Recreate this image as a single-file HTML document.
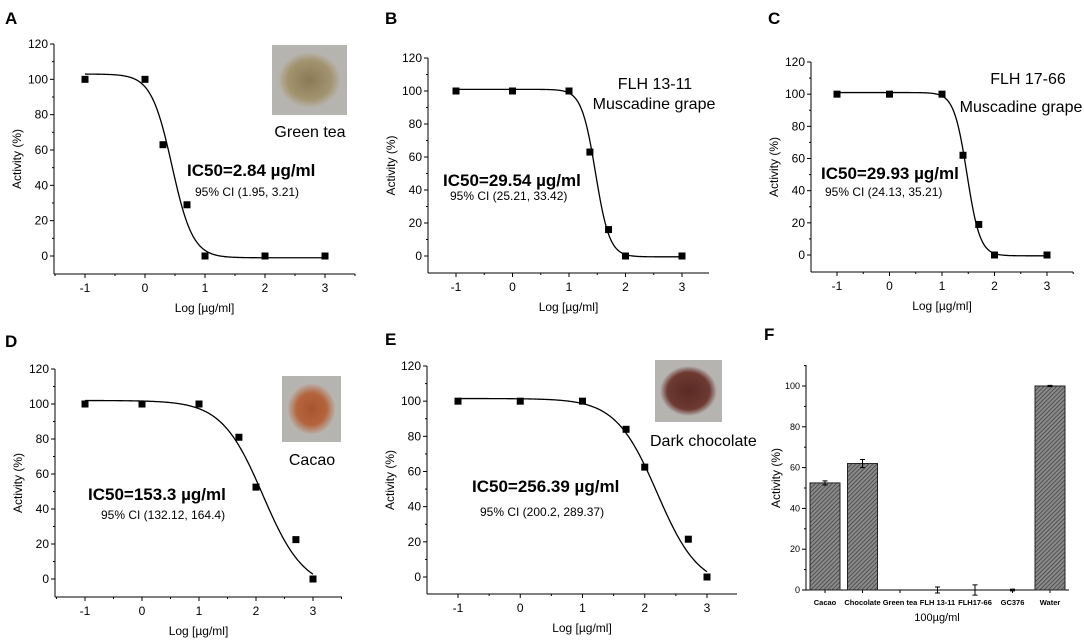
<!DOCTYPE html>
<html><head><meta charset="utf-8">
<style>
html,body{margin:0;padding:0;background:#fff;}
svg{display:block;font-family:"Liberation Sans",Arial,sans-serif;}
</style></head>
<body>
<svg id="fig" width="1084" height="641" viewBox="0 0 1084 641" xmlns="http://www.w3.org/2000/svg">
<defs>
<pattern id="hatch" width="3" height="3" patternUnits="userSpaceOnUse" patternTransform="rotate(45)">
<rect width="3" height="3" fill="#8a8a8a"/><line x1="0" y1="0" x2="0" y2="3" stroke="#3a3a3a" stroke-width="1.4"/>
</pattern>
<radialGradient id="teaG"><stop offset="0" stop-color="#8a7a55"/><stop offset="0.7" stop-color="#a39470"/><stop offset="1" stop-color="#b8b5ae"/></radialGradient>
<radialGradient id="cacaoG"><stop offset="0" stop-color="#a8552e"/><stop offset="0.6" stop-color="#b4643c"/><stop offset="1" stop-color="#b9b9b6"/></radialGradient>
<radialGradient id="chocG"><stop offset="0" stop-color="#5a2a24"/><stop offset="0.75" stop-color="#6e3a32"/><stop offset="1" stop-color="#b2aeab"/></radialGradient>
</defs>
<g id="root"></g>
</svg>
<script>
// ---- Data ----
const xTicks = [-1, 0, 1, 2, 3];
const yTicks = [0, 20, 40, 60, 80, 100, 120];
const aX = [-1, 0, 0.3, 0.7, 1, 2, 3];
const aY = [100, 100, 63, 29, 0, 0, 0];
const bX = [-1, 0, 1, 1.37, 1.7, 2, 3];
const bY = [100, 100, 100, 63, 16, 0, 0];
const cX = [-1, 0, 1, 1.4, 1.7, 2, 3];
const cY = [100, 100, 100, 62, 19, 0, 0];
const dX = [-1, 0, 1, 1.7, 2, 2.7, 3];
const dY = [100, 100, 100, 81, 52.5, 22.5, 0];
const eX = [-1, 0, 1, 1.7, 2, 2.7, 3];
const eY = [100, 100, 100, 84, 62.5, 21.5, 0];
// fit params [top, bottom, logIC50, hill]
const aFit = [103, -1, 0.45, 2.5];
const bFit = [101, -0.5, 1.47, 3.5];
const cFit = [101, -0.5, 1.476, 3.5];
const dFit = [102, -6, 2.12, 1.2];
const eFit = [101.5, -6, 2.2, 1.3];
const fCats = ["Cacao", "Chocolate", "Green tea", "FLH 13-11", "FLH17-66", "GC376", "Water"];
const fVals = [52.5, 62, 0, 0, 0, 0, 100];
const fErr = [1, 2, 0, 1.5, 2.5, 0.4, 0.3];
const fTicks = [0, 20, 40, 60, 80, 100];

const NS = "http://www.w3.org/2000/svg";
const root = document.getElementById("root");
function mk(tag, attrs, parent) {
  const e = document.createElementNS(NS, tag);
  for (const k in attrs) e.setAttribute(k, attrs[k]);
  (parent || root).appendChild(e);
  return e;
}
function txt(s, x, y, attrs, parent) {
  const t = mk("text", Object.assign({x: x, y: y}, attrs), parent);
  t.textContent = s;
  return t;
}

function curvePanel(p) {
  const g = mk("g", {});
  
  
  const sx = v => p.x0 + (v - (-1)) * (p.x3 - p.x0) / 4;
  const sy = v => p.y0 + v * (p.y120 - p.y0) / 120;
  const ff = p.font || '"Liberation Sans", Arial, sans-serif';
  // axes
  const ax = mk("g", {stroke: "#000", "stroke-width": 1}, g);
  
  
  mk("line", {x1: p.ax, y1: p.y120, x2: p.ax, y2: p.xaxY}, ax);
  mk("line", {x1: p.ax, y1: p.xaxY, x2: p.xend, y2: p.xaxY}, ax);
  for (let v = -10; v <= 120; v += 10) {
    if (v === -10) continue;
    const major = v % 20 === 0;
    mk("line", {x1: p.ax - (major ? 4 : 2), y1: sy(v), x2: p.ax, y2: sy(v)}, ax);
  }
  for (let v = -1.5; v <= 3.5; v += 0.5) {
    const X = sx(v);
    if (X < p.ax || X > p.xend + 0.5) continue;
    const major = Number.isInteger(v);
    mk("line", {x1: X, y1: p.xaxY, x2: X, y2: p.xaxY + (major ? 4 : 2)}, ax);
  }
  yTicks.forEach(v => {
    const t = txt(String(v), p.ax - 6, sy(v) + 4, {"font-size": 12, "text-anchor": "end", "font-family": ff}, g);
    
    
  });
  xTicks.forEach(v => {
    const t = txt(String(v), sx(v), p.xaxY + 18, {"font-size": 12, "text-anchor": "middle", "font-family": ff}, g);
    
    
  });
  const yt = txt("Activity (%)", 0, 0, {"font-size": 12, "text-anchor": "middle", transform: `translate(${p.ax - 33},${(p.y120 + p.xaxY) / 2}) rotate(-90)`, "font-family": ff}, g);
  
  
  const xt = txt("Log [µg/ml]", (p.ax + p.xend) / 2, p.xaxY + 38, {"font-size": 12, "text-anchor": "middle", "font-family": ff}, g);
  
  
  // curve
  const [top, bot, c, h] = p.fit;
  let d = "";
  for (let i = 0; i <= 200; i++) {
    const xv = -1 + 4 * i / 200;
    const yv = bot + (top - bot) / (1 + Math.pow(10, h * (xv - c)));
    d += (i ? "L" : "M") + sx(xv).toFixed(2) + "," + sy(yv).toFixed(2);
  }
  const cv = mk("path", {d: d, fill: "none", stroke: "#000", "stroke-width": 1.3}, g);
  
  
  p.xs.forEach((xv, i) => {
    const r = mk("rect", {x: sx(xv) - 3.5, y: sy(p.ys[i]) - 3.5, width: 7, height: 7, fill: "#000"}, g);
    
    
  });
  // panel letter
  const L = txt(p.letter, p.lx, p.ly, {"font-size": 17, "font-weight": "bold"}, g);
  
  
  // annotations
  const i1 = txt(p.ic50, p.icx, p.icy, {"font-size": p.icSize || 17, "font-weight": "bold", "font-family": ff}, g);
  
  
  const i2 = txt(p.ci, p.cix, p.ciy, {"font-size": 12, "font-family": ff}, g);
  
  
  return g;
}

function photo(x, y, w, h, grad, name, parent) {
  const g = mk("g", {}, parent);
  
  
  mk("rect", {x: x, y: y, width: w, height: h, fill: "#b5b4b1"}, g);
  mk("ellipse", {cx: x + w / 2, cy: y + h / 2, rx: w * 0.42, ry: h * 0.4, fill: "url(#" + grad + ")"}, g);
}

const pA = curvePanel({name: "panel-a-green-tea", letter: "A", lx: 5, ly: 24, x0: 85, x3: 325, ax: 54, xend: 355, y0: 256, y120: 44, xaxY: 274, xs: aX, ys: aY, fit: aFit,
  ic50: "IC50=2.84 µg/ml", icx: 187, icy: 176, ci: "95% CI (1.95, 3.21)", cix: 195, ciy: 196});
photo(272, 45, 75, 70, "teaG", "green-tea-photo", pA);
txt("Green tea", 310, 137, {"font-size": 16, "text-anchor": "middle"}, pA);

const narrow = '"Liberation Sans Narrow", "Liberation Sans", Arial, sans-serif';
const pB = curvePanel({name: "panel-b-flh-13-11", letter: "B", lx: 385, ly: 24, x0: 456, x3: 682, ax: 428, xend: 709, y0: 256, y120: 58, xaxY: 273, xs: bX, ys: bY, fit: bFit, font: narrow,
  ic50: "IC50=29.54 µg/ml", icx: 443, icy: 186, ci: "95% CI (25.21, 33.42)", cix: 450, ciy: 200});
txt("FLH 13-11", 655, 89, {"font-size": 16, "text-anchor": "middle", "font-family": narrow}, pB);
txt("Muscadine grape", 654, 109, {"font-size": 16, "text-anchor": "middle", "font-family": narrow}, pB);

const pC = curvePanel({name: "panel-c-flh-17-66", letter: "C", lx: 768, ly: 24, x0: 837, x3: 1047, ax: 811, xend: 1073, y0: 255, y120: 62, xaxY: 272, xs: cX, ys: cY, fit: cFit,
  ic50: "IC50=29.93 µg/ml", icx: 821, icy: 179, ci: "95% CI  (24.13, 35.21)", cix: 825, ciy: 196});
txt("FLH 17-66", 1028, 84, {"font-size": 16, "text-anchor": "middle"}, pC);
txt("Muscadine grape", 1021, 112, {"font-size": 16, "text-anchor": "middle"}, pC);

const pD = curvePanel({name: "panel-d-cacao", letter: "D", lx: 5, ly: 347, x0: 85, x3: 313, ax: 55, xend: 342, y0: 579, y120: 369, xaxY: 597, xs: dX, ys: dY, fit: dFit,
  ic50: "IC50=153.3 µg/ml", icx: 88, icy: 500, ci: "95% CI (132.12, 164.4)", cix: 101, ciy: 519});
photo(282, 376, 59, 66, "cacaoG", "cacao-photo", pD);
txt("Cacao", 312, 465, {"font-size": 16, "text-anchor": "middle"}, pD);

const pE = curvePanel({name: "panel-e-dark-chocolate", letter: "E", lx: 385, ly: 345, x0: 458, x3: 707, ax: 427, xend: 737, y0: 577, y120: 366, xaxY: 594, xs: eX, ys: eY, fit: eFit,
  ic50: "IC50=256.39 µg/ml", icx: 472, icy: 492, ci: "95% CI (200.2, 289.37)", cix: 480, ciy: 516});
photo(655, 360, 67, 62, "chocG", "chocolate-photo", pE);
txt("Dark chocolate", 650, 446, {"font-size": 16}, pE);

// ---- Panel F bar chart ----
(function () {
  const g = mk("g", {});
  
  
  const ax = 806, x0 = 590, top = 365, end = 1069;
  const sy = v => x0 + v * (386 - x0) / 100;
  const sx = i => 825 + i * 37.5;
  const axes = mk("g", {stroke: "#000", "stroke-width": 1}, g);
  
  
  mk("line", {x1: ax, y1: top, x2: ax, y2: x0}, axes);
  mk("line", {x1: ax, y1: x0, x2: end, y2: x0}, axes);
  for (let v = 0; v <= 110; v += 10) {
    if (sy(v) < top) continue;
    mk("line", {x1: ax - (v % 20 === 0 ? 4 : 2), y1: sy(v), x2: ax, y2: sy(v)}, axes);
  }
  fTicks.forEach(v => {
    const t = txt(String(v), ax - 6, sy(v) + 3, {"font-size": 9, "text-anchor": "end"}, g);
    
    
  });
  fCats.forEach((c, i) => {
    const X = sx(i);
    mk("line", {x1: X, y1: x0, x2: X, y2: x0 + 3, stroke: "#000"}, g);
    if (fVals[i] > 0) {
      const b = mk("rect", {x: X - 15, y: sy(fVals[i]), width: 30, height: x0 - sy(fVals[i]), fill: "url(#hatch)", stroke: "#222", "stroke-width": 1}, g);
      
      
    }
    if (fErr[i] > 0) {
      const e = mk("path", {d: `M${X},${sy(fVals[i] - fErr[i])}V${sy(fVals[i] + fErr[i])}M${X - 2.5},${sy(fVals[i] + fErr[i])}h5M${X - 2.5},${sy(fVals[i] - fErr[i])}h5`, stroke: "#000", fill: "none"}, g);
      
      
    }
    const t = txt(c, X, 605, {"font-size": 7.5, "font-weight": "bold", "text-anchor": "middle"}, g);
    
    
  });
  const yt = txt("Activity (%)", 0, 0, {"font-size": 12, "text-anchor": "middle", transform: "translate(780,478) rotate(-90)"}, g);
  
  
  const xt = txt("100µg/ml", 937, 621, {"font-size": 11, "text-anchor": "middle"}, g);
  
  
  const L = txt("F", 764, 340, {"font-size": 17, "font-weight": "bold"}, g);
  
  
})();
</script>
</body></html>
